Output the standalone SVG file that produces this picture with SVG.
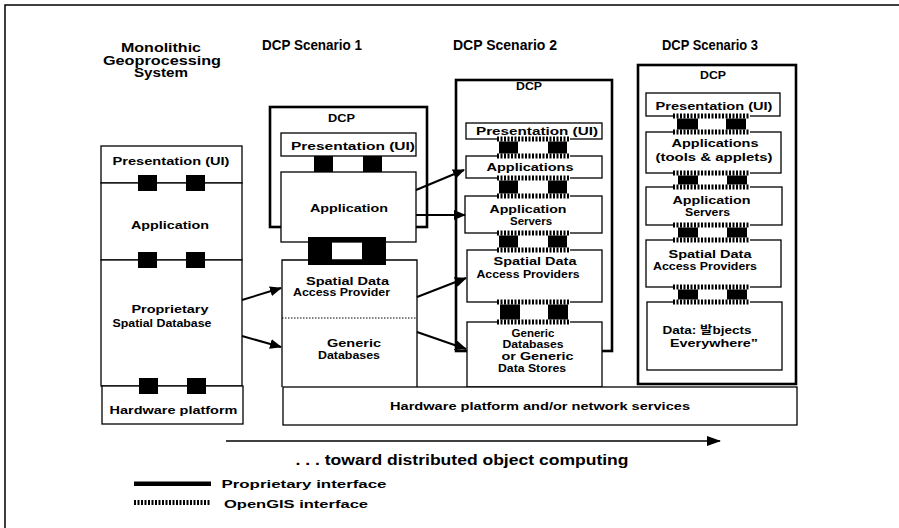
<svg xmlns="http://www.w3.org/2000/svg" width="899" height="528" viewBox="0 0 899 528">
<defs>
<style>
.t{font-family:"Liberation Sans",Arial,Helvetica,sans-serif;font-weight:bold;font-size:11px;fill:#000;text-anchor:middle}
.h{font-size:14px}
.m{font-size:12.5px}
.s{font-size:10.5px}
.bx{fill:#fff;stroke:#000;stroke-width:1.3}
.dcp{fill:#fff;stroke:#000;stroke-width:2.6}
.ln{fill:none;stroke:#000;stroke-width:1.3}
.blk{fill:#000}
.tkbg{fill:none;stroke:#fff;stroke-width:5}
.tk{fill:none;stroke:#000;stroke-width:5;stroke-dasharray:2 1.5}
.ar{fill:none;stroke:#000;stroke-width:2}
</style>
<marker id="ah" viewBox="0 0 12 10" refX="11" refY="5" markerWidth="12" markerHeight="10" markerUnits="userSpaceOnUse" orient="auto"><path d="M0,0L12,5L0,10z"/></marker>
<marker id="ah2" viewBox="0 0 14 10" refX="13" refY="5" markerWidth="14" markerHeight="10" markerUnits="userSpaceOnUse" orient="auto"><path d="M0,0L14,5L0,10z"/></marker>
<g id="tr2"><path class="tkbg" d="M0,0H73"/><path class="tk" d="M0,0H73"/></g>
<g id="tr3"><path class="tkbg" d="M0,0H77"/><path class="tk" d="M0,0H77"/></g>
</defs>
<rect width="899" height="528" fill="#fff"/>
<path d="M5,528V5H899" fill="none" stroke="#000" stroke-width="1.5"/>

<g id="headers">
<text class="t m" x="161" y="52" textLength="80" lengthAdjust="spacingAndGlyphs">Monolithic</text>
<text class="t m" x="162" y="64.5" textLength="118" lengthAdjust="spacingAndGlyphs">Geoprocessing</text>
<text class="t m" x="161" y="77" textLength="54" lengthAdjust="spacingAndGlyphs">System</text>
<text class="t h" x="312" y="50" textLength="100" lengthAdjust="spacingAndGlyphs">DCP Scenario 1</text>
<text class="t h" x="505" y="50" textLength="104" lengthAdjust="spacingAndGlyphs">DCP Scenario 2</text>
<text class="t h" x="710" y="50" textLength="96" lengthAdjust="spacingAndGlyphs">DCP Scenario 3</text>
</g>

<!-- Monolithic -->
<g id="mono-pres"><rect class="bx" x="101" y="146" width="141" height="37"/>
<text class="t" x="171" y="165" textLength="117" lengthAdjust="spacingAndGlyphs">Presentation (UI)</text></g>
<g id="mono-app"><rect class="bx" x="101" y="183" width="141" height="77"/>
<text class="t" x="170" y="229" textLength="78" lengthAdjust="spacingAndGlyphs">Application</text></g>
<g id="mono-db"><rect class="bx" x="101" y="260" width="141" height="126"/>
<text class="t" x="170" y="312.5" textLength="77" lengthAdjust="spacingAndGlyphs">Proprietary</text>
<text class="t" x="162" y="327" textLength="99" lengthAdjust="spacingAndGlyphs">Spatial Database</text></g>
<g id="mono-hw"><rect class="bx" x="102" y="386" width="141" height="38"/>
<text class="t" x="173.5" y="414" textLength="128" lengthAdjust="spacingAndGlyphs">Hardware platform</text></g>

<!-- Scenario 1 -->
<g id="s1-dcp"><rect class="dcp" x="270" y="107" width="157" height="120"/>
<text class="t" x="341.5" y="122" textLength="27" lengthAdjust="spacingAndGlyphs">DCP</text></g>
<g id="s1-pres"><rect class="bx" x="281" y="133" width="135" height="23"/>
<text class="t" x="353" y="150" textLength="124" lengthAdjust="spacingAndGlyphs">Presentation (UI)</text></g>
<g id="s1-app"><rect class="bx" x="281" y="172" width="135" height="70"/>
<text class="t" x="349" y="212" textLength="78" lengthAdjust="spacingAndGlyphs">Application</text></g>
<g id="s1-sdap"><path class="ln" d="M282,318V260H417V318"/>
<text class="t" x="347.5" y="284.5" textLength="83" lengthAdjust="spacingAndGlyphs">Spatial Data</text>
<text class="t" x="341.5" y="296" textLength="97" lengthAdjust="spacingAndGlyphs">Access Provider</text></g>
<g id="s1-gdb"><path class="ln" d="M282,318V387M417,318V387"/>
<path d="M282,318H417" fill="none" stroke="#000" stroke-width="1" stroke-dasharray="1.5 1.5"/>
<text class="t" x="354" y="346.5" textLength="54" lengthAdjust="spacingAndGlyphs">Generic</text>
<text class="t" x="349" y="359" textLength="62" lengthAdjust="spacingAndGlyphs">Databases</text></g>

<!-- Scenario 2 -->
<g id="s2-dcp"><rect class="dcp" x="456" y="80" width="156" height="271"/>
<text class="t" x="529" y="90" textLength="26" lengthAdjust="spacingAndGlyphs">DCP</text></g>
<g id="s2-pres"><rect class="bx" x="466" y="123" width="136" height="16"/>
<text class="t" x="537" y="135" textLength="122" lengthAdjust="spacingAndGlyphs">Presentation (UI)</text></g>
<g id="s2-apps"><rect class="bx" x="466" y="156" width="136" height="22"/>
<text class="t" x="530" y="170.5" textLength="87" lengthAdjust="spacingAndGlyphs">Applications</text></g>
<g id="s2-appsrv"><rect class="bx" x="465" y="196" width="137" height="37"/>
<text class="t" x="528" y="212.5" textLength="77" lengthAdjust="spacingAndGlyphs">Application</text>
<text class="t" x="531" y="225" textLength="42" lengthAdjust="spacingAndGlyphs">Servers</text></g>
<g id="s2-sdap"><rect class="bx" x="467" y="250" width="135" height="52"/>
<text class="t" x="535" y="265" textLength="83" lengthAdjust="spacingAndGlyphs">Spatial Data</text>
<text class="t" x="528" y="277.5" textLength="103" lengthAdjust="spacingAndGlyphs">Access Providers</text></g>
<g id="s2-gdb"><rect class="bx" x="467" y="322" width="135" height="65"/>
<text class="t s" x="533" y="336.5" textLength="43" lengthAdjust="spacingAndGlyphs">Generic</text>
<text class="t s" x="533" y="348" textLength="61" lengthAdjust="spacingAndGlyphs">Databases</text>
<text class="t s" x="537.5" y="359.5" textLength="72" lengthAdjust="spacingAndGlyphs">or Generic</text>
<text class="t s" x="532" y="371.5" textLength="68" lengthAdjust="spacingAndGlyphs">Data Stores</text></g>

<!-- Scenario 3 -->
<g id="s3-dcp"><rect class="dcp" x="638" y="65" width="158" height="319"/>
<text class="t" x="713" y="79" textLength="26" lengthAdjust="spacingAndGlyphs">DCP</text></g>
<g id="s3-pres"><rect class="bx" x="646" y="93" width="134" height="23"/>
<text class="t" x="714" y="110" textLength="117" lengthAdjust="spacingAndGlyphs">Presentation (UI)</text></g>
<g id="s3-apps"><rect class="bx" x="646" y="132" width="135" height="41"/>
<text class="t" x="715" y="146.5" textLength="87" lengthAdjust="spacingAndGlyphs">Applications</text>
<text class="t" x="714" y="161" textLength="117" lengthAdjust="spacingAndGlyphs">(tools &amp; applets)</text></g>
<g id="s3-appsrv"><rect class="bx" x="646" y="187" width="136" height="38"/>
<text class="t" x="711.5" y="204" textLength="78" lengthAdjust="spacingAndGlyphs">Application</text>
<text class="t" x="707.5" y="216" textLength="45" lengthAdjust="spacingAndGlyphs">Servers</text></g>
<g id="s3-sdap"><rect class="bx" x="646" y="240" width="135" height="47"/>
<text class="t" x="710" y="258" textLength="83" lengthAdjust="spacingAndGlyphs">Spatial Data</text>
<text class="t" x="705" y="270" textLength="104" lengthAdjust="spacingAndGlyphs">Access Providers</text></g>
<g id="s3-data"><rect class="bx" x="647" y="302" width="135" height="68"/>
<text class="t" x="707" y="334" textLength="89" lengthAdjust="spacingAndGlyphs" style="font-family:'Liberation Sans','Noto Sans CJK KR',sans-serif">Data: 발bjects</text>
<text class="t" x="714" y="346.5" textLength="88" lengthAdjust="spacingAndGlyphs">Everywhere”</text></g>

<g id="hw-shared"><rect class="bx" x="283" y="387" width="514" height="38"/>
<text class="t" x="540" y="409.5" textLength="300" lengthAdjust="spacingAndGlyphs">Hardware platform and/or network services</text></g>

<!-- interfaces -->
<g id="interfaces">
<rect class="blk" x="138" y="175" width="19" height="16"/><rect class="blk" x="186" y="175" width="19" height="16"/>
<rect class="blk" x="138" y="252" width="19" height="16"/><rect class="blk" x="186" y="252" width="19" height="16"/>
<rect class="blk" x="139" y="378" width="19" height="16"/><rect class="blk" x="187" y="378" width="19" height="16"/>
<rect class="blk" x="314" y="156" width="19" height="16"/><rect class="blk" x="363" y="156" width="19" height="16"/>
<path class="blk" fill-rule="evenodd" d="M308,237H386V265H308ZM332,242V260H362V242Z"/>
<rect class="blk" x="499" y="139" width="19" height="17"/><rect class="blk" x="548" y="139" width="19" height="17"/>
<use href="#tr2" x="497" y="139"/><use href="#tr2" x="497" y="156"/>
<rect class="blk" x="499" y="178" width="19" height="18"/><rect class="blk" x="548" y="178" width="19" height="18"/>
<use href="#tr2" x="497" y="178"/><use href="#tr2" x="497" y="196"/>
<rect class="blk" x="499" y="233" width="19" height="17"/><rect class="blk" x="548" y="233" width="19" height="17"/>
<use href="#tr2" x="497" y="233"/><use href="#tr2" x="497" y="250"/>
<rect class="blk" x="500" y="302" width="20" height="20"/><rect class="blk" x="548" y="302" width="20" height="20"/>
<use href="#tr2" x="497" y="302"/><use href="#tr2" x="497" y="322"/>
<rect class="blk" x="677" y="116" width="21" height="16"/><rect class="blk" x="726" y="116" width="20" height="16"/>
<use href="#tr3" x="673" y="116"/><use href="#tr3" x="673" y="132"/>
<rect class="blk" x="678" y="173" width="20" height="14"/><rect class="blk" x="727" y="173" width="20" height="14"/>
<use href="#tr3" x="673" y="173"/><use href="#tr3" x="673" y="187"/>
<rect class="blk" x="678" y="225" width="20" height="15"/><rect class="blk" x="727" y="225" width="20" height="15"/>
<use href="#tr3" x="673" y="225"/><use href="#tr3" x="673" y="240"/>
<rect class="blk" x="678" y="287" width="20" height="15"/><rect class="blk" x="727" y="287" width="20" height="15"/>
<use href="#tr3" x="673" y="287"/><use href="#tr3" x="673" y="302"/>
</g>

<g id="connectors">
<line class="ar" x1="242" y1="300" x2="281" y2="288" marker-end="url(#ah)"/>
<line class="ar" x1="242" y1="336" x2="281" y2="347" marker-end="url(#ah)"/>
<line class="ar" x1="416" y1="190" x2="464" y2="170" marker-end="url(#ah)"/>
<line class="ar" x1="416" y1="215" x2="465" y2="215" marker-end="url(#ah)"/>
<line class="ar" x1="417" y1="297" x2="466" y2="278" marker-end="url(#ah)"/>
<line class="ar" x1="417" y1="332" x2="466" y2="349" marker-end="url(#ah)"/>
<line x1="226" y1="441" x2="720" y2="441" stroke="#000" stroke-width="1.6" marker-end="url(#ah2)"/>
</g>

<g id="legend">
<text class="t" x="462" y="465" style="font-size:14px" textLength="333" lengthAdjust="spacingAndGlyphs">. . .  toward distributed object computing</text>
<rect class="blk" x="134" y="481.5" width="77" height="4.5"/>
<text class="t" x="221.5" y="488" style="text-anchor:start;font-size:11.5px" textLength="165" lengthAdjust="spacingAndGlyphs">Proprietary  interface</text>
<path class="tk" d="M134,502.5H211"/>
<text class="t" x="224" y="508" style="text-anchor:start;font-size:11.5px" textLength="144" lengthAdjust="spacingAndGlyphs">OpenGIS interface</text>
</g>
</svg>
